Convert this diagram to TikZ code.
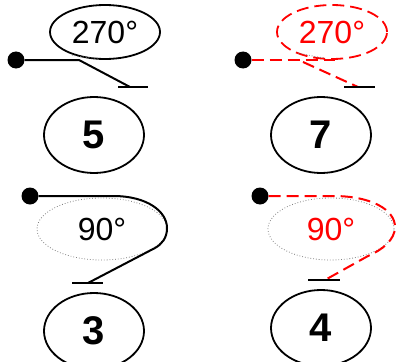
\documentclass[tikz,border=0pt]{standalone}
\usepackage{fontspec}
\setmainfont{Liberation Sans}
\usetikzlibrary{shapes.geometric}
\begin{document}
\begin{tikzpicture}[x=1pt,y=-1pt,
  num/.style={ellipse,draw=black,line width=1.8pt,minimum width=100pt,minimum height=76pt,inner sep=0pt,font=\fontsize{40}{40}\selectfont\bfseries},
  ang/.style={ellipse,minimum width=110pt,minimum height=54pt,inner sep=0pt,font=\fontsize{32}{32}\selectfont},
  dot/.style={circle,fill=black,minimum size=17pt,inner sep=0pt},
  wire/.style={line width=2pt},
  redwire/.style={red,line width=2pt,dash pattern=on 12pt off 6pt},
  hidden/.style={draw=gray,line width=0.8pt,dotted}]
  \useasboundingbox (0,0) rectangle (401,361);

  % Giro de 270 grados (arriba a la izquierda)
  \node[ang,draw=black,line width=1.8pt] (a5) at (105,32) {270°};
  \node[num] (n5) at (94,135) {5};
  \node[dot] (d5) at (16,60) {};
  \coordinate (k5) at (79,60);
  \coordinate (e5) at (130,87);
  \coordinate (b5l) at (118,87);
  \coordinate (b5r) at (148,87);
  \draw[wire] (d5) -- (k5) -- (e5);
  \draw[hidden] (72,55) .. controls (80,57) and (90,58) .. (98,58);

  % Giro de 270 grados en rojo (arriba a la derecha)
  \node[ang,draw=red,text=red,line width=1.8pt,dash pattern=on 12pt off 6pt] (a7) at (332,32) {270°};
  \node[num] (n7) at (321,135) {7};
  \node[dot] (d7) at (243,60) {};
  \coordinate (h7) at (335,60);
  \coordinate (s7) at (303,62);
  \coordinate (e7) at (358,87);
  \coordinate (b7l) at (344,87);
  \coordinate (b7r) at (375,87);
  \draw[redwire] (d7) -- (h7);
  \draw[redwire] (s7) -- (e7);
  \draw[hidden] (298,53) .. controls (308,55) and (316,57) .. (325,58);

  % Giro de 90 grados (abajo a la izquierda)
  \node[ang,hidden,text=black,minimum width=130pt,minimum height=62pt] (a3) at (102,229) {90°};
  \node[num] (n3) at (94,331) {3};
  \node[dot] (d3) at (30,196) {};
  \coordinate (e3) at (88,283);
  \coordinate (b3l) at (72,283);
  \coordinate (b3r) at (103,283);
  \draw[wire] (d3) -- (113,196) .. controls (148,196) and (167,212) .. (167,228)
    .. controls (167,238) and (162,244) .. (155,248) -- (e3);

  % Giro de 90 grados en rojo (abajo a la derecha)
  \node[ang,hidden,text=red,minimum width=126pt,minimum height=62pt] (a4) at (331,229) {90°};
  \node[num] (n4) at (321,328) {4};
  \node[dot] (d4) at (260,196) {};
  \coordinate (e4) at (325,280);
  \coordinate (b4l) at (308,280);
  \coordinate (b4r) at (340,280);
  \draw[redwire] (d4) -- (333,196) .. controls (372,196) and (395,210) .. (395,227)
    .. controls (395,240) and (382,250) .. (368,256) -- (e4);

  % Topes al final de cada recorrido
  \foreach \l/\r in {b5l/b5r, b7l/b7r, b3l/b3r, b4l/b4r}
    \draw[wire] (\l) -- (\r);
\end{tikzpicture}
\end{document}
